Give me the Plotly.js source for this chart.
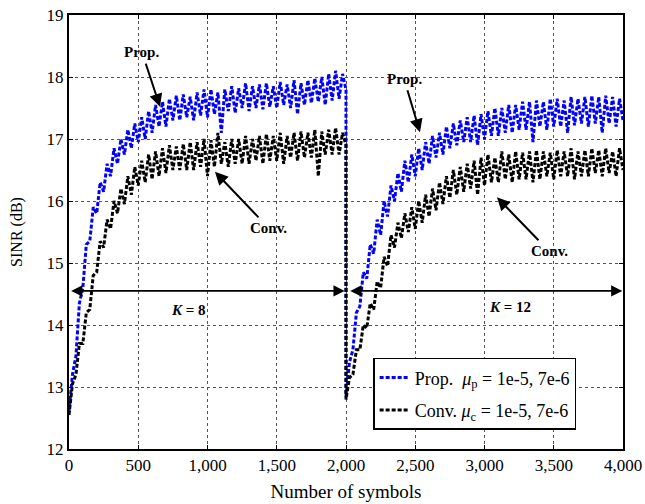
<!DOCTYPE html>
<html>
<head>
<meta charset="utf-8">
<script src="https://cdn.plot.ly/plotly-3.0.1.min.js"></script>
<style>html,body{margin:0;padding:0;background:#fff;}#chart{width:645px;height:504px;}</style>
</head>
<body>
<div id="chart"></div>
<script>
// Symbol sampling: every 25 symbols; K = 8 block covers 0..2000, K = 12 block covers 2000..4000
const symbolStep = 25;
const blockLength = 2000;

// Proposed scheme SINR (dB): K = 8 block (81 samples), then K = 12 block (81 samples)
const propK8 = [
12.6,13.2,13.5,14.35,14.6,15.3,15.35,15.9,15.8,16.3,16.15,16.6,16.4,16.85,16.6,17.0,16.75,17.15,16.85,17.25,
16.95,17.35,17.0,17.45,17.1,17.55,17.2,17.6,17.2,17.65,17.3,17.7,17.3,17.72,17.35,17.68,17.3,17.75,17.38,17.8,
17.35,17.8,17.4,17.75,17.1,17.8,17.45,17.85,17.42,17.82,17.5,17.9,17.45,17.85,17.5,17.88,17.48,17.9,17.52,17.85,
17.5,17.92,17.55,17.88,17.5,17.95,17.4,17.9,17.55,17.95,17.58,17.98,17.6,18.0,17.55,18.05,17.62,18.1,17.65,18.05,
17.8];
const propK12 = [
12.85,13.4,13.6,14.2,14.3,14.85,14.75,15.3,15.15,15.7,15.45,16.0,15.75,16.25,16.0,16.45,16.15,16.65,16.3,16.75,
16.4,16.85,16.5,16.95,16.6,17.05,16.7,17.1,16.75,17.2,16.85,17.25,16.9,17.3,16.95,17.35,16.95,17.38,16.9,17.4,
17.0,17.45,17.05,17.5,17.05,17.5,17.1,17.55,17.1,17.55,17.15,17.6,17.15,17.6,16.95,17.62,17.2,17.6,17.15,17.65,
17.2,17.65,17.2,17.62,17.1,17.68,17.22,17.65,17.25,17.68,17.2,17.7,17.25,17.68,17.1,17.7,17.25,17.68,17.2,17.65,
17.3];

// Conventional scheme SINR (dB)
const convK8 = [
12.55,13.05,13.2,13.7,13.7,14.2,14.25,14.8,14.85,15.35,15.25,15.7,15.55,16.0,15.8,16.2,15.95,16.4,16.1,16.55,
16.25,16.65,16.3,16.75,16.35,16.8,16.4,16.85,16.45,16.9,16.5,16.88,16.5,16.92,16.5,16.95,16.5,16.95,16.55,17.0,
16.4,16.98,16.55,17.1,16.6,16.95,16.55,17.0,16.6,17.0,16.6,17.05,16.6,17.0,16.65,17.05,16.6,17.08,16.65,17.05,
16.65,17.1,16.6,17.05,16.7,17.1,16.65,17.12,16.7,17.1,16.7,17.15,16.4,17.12,16.75,17.15,16.75,17.18,16.75,17.1,
16.9];
const convK12 = [
12.8,13.15,13.2,13.6,13.6,14.0,13.95,14.35,14.25,14.7,14.6,15.1,14.95,15.45,15.25,15.65,15.4,15.8,15.5,15.9,
15.55,16.0,15.65,16.1,15.75,16.2,15.85,16.3,15.95,16.4,16.05,16.5,16.1,16.55,16.15,16.6,16.2,16.65,16.1,16.7,
16.25,16.75,16.3,16.7,16.3,16.8,16.35,16.75,16.3,16.8,16.35,16.78,16.35,16.8,16.3,16.82,16.35,16.8,16.4,16.78,
16.35,16.82,16.4,16.8,16.4,16.85,16.35,16.8,16.4,16.82,16.4,16.85,16.45,16.82,16.4,16.85,16.45,16.8,16.4,16.85,
16.5];

const xTickVals = [0,500,1000,1500,2000,2500,3000,3500,4000];
const yTickVals = [12,13,14,15,16,17,18,19];
const seriesNames = ['Prop.  <i>μ</i><sub>p</sub> = 1e-5, 7e-6', 'Conv. <i>μ</i><sub>c</sub> = 1e-5, 7e-6'];
const blockLabels = ['<i>K</i> = 8', '<i>K</i> = 12'];

const k8Symbols = propK8.map((_, i) => i * symbolStep);
const k12Symbols = propK12.map((_, i) => blockLength + i * symbolStep);
const symbols = k8Symbols.concat(k12Symbols);
const propSINR = propK8.concat(propK12);
const convSINR = convK8.concat(convK12);

const serif = 'Liberation Serif';

const traces = [
  {x: symbols, y: propSINR, mode: 'lines', name: seriesNames[0], legendgroup: 'p',
   line: {color: '#0000ff', width: 3, dash: '4px,2px'}},
  {x: symbols, y: convSINR, mode: 'lines', name: seriesNames[1], legendgroup: 'c',
   line: {color: '#000000', width: 3, dash: '4px,2px'}}
];

const labelFont = {family: serif, size: 15, color: '#000'};
const arrowed = (txt, tx, ty, hx, hy) => ({text: '<b>' + txt + '</b>', x: hx, y: hy, ax: tx, ay: ty,
  xref: 'x', yref: 'y', axref: 'x', ayref: 'y', showarrow: true, arrowhead: 2, arrowsize: 1.3,
  arrowwidth: 2, arrowcolor: '#000', standoff: 0, startstandoff: 2, font: labelFont});
const plainLabel = (txt, x, y) => ({text: '<b>' + txt + '</b>', x: x, y: y, xref: 'x', yref: 'y',
  showarrow: false, font: {family: serif, size: 15, color: '#000'}});
const span = (x0, x1, y) => ({text: '', x: x1, y: y, ax: x0, ay: y, xref: 'x', yref: 'y', axref: 'x', ayref: 'y',
  showarrow: true, arrowhead: 2, arrowsize: 1.4, arrowwidth: 1.6, arrowcolor: '#000', arrowside: 'end+start'});

const annotations = [
  arrowed('Prop.', 527, 18.40, 657, 17.52),
  arrowed('Conv.', 1444, 15.56, 1054, 16.47),
  arrowed('Prop.', 2419, 17.97, 2534, 17.11),
  arrowed('Conv.', 3466, 15.19, 3090, 16.06),
  span(5, 1990, 14.55),
  span(2020, 3995, 14.55),
  plainLabel(blockLabels[0], 866, 14.24),
  plainLabel(blockLabels[1], 3184, 14.29)
];

const axisCommon = {
  showline: true, linecolor: '#000', linewidth: 2, mirror: 'allticks',
  ticks: 'inside', ticklen: 4, tickcolor: '#000', tickwidth: 1,
  showgrid: true, gridcolor: '#555', gridwidth: 1, griddash: 'dot',
  zeroline: false, tickfont: {family: serif, size: 17, color: '#000'}
};

const layout = {
  width: 645, height: 504,
  margin: {l: 69, r: 22, t: 15, b: 55},
  paper_bgcolor: '#fff', plot_bgcolor: '#fff',
  showlegend: true,
  legend: {x: 0.549, y: 0.21, xanchor: 'left', yanchor: 'top',
    bgcolor: '#fff', bordercolor: '#000', borderwidth: 1.5,
    font: {family: serif, size: 18, color: '#000'}, tracegroupgap: 6},
  xaxis: Object.assign({}, axisCommon, {range: [0, 4000], tickvals: xTickVals, tickformat: ',d',
    title: {text: 'Number of symbols', font: {family: serif, size: 19, color: '#000'}, standoff: 10}}),
  yaxis: Object.assign({}, axisCommon, {range: [12, 19], tickvals: yTickVals,
    title: {text: 'SINR (dB)', font: {family: serif, size: 16, color: '#000'}, standoff: 20}}),
  annotations: annotations
};

Plotly.newPlot('chart', traces, layout, {displayModeBar: false, staticPlot: true});
</script>
</body>
</html>
